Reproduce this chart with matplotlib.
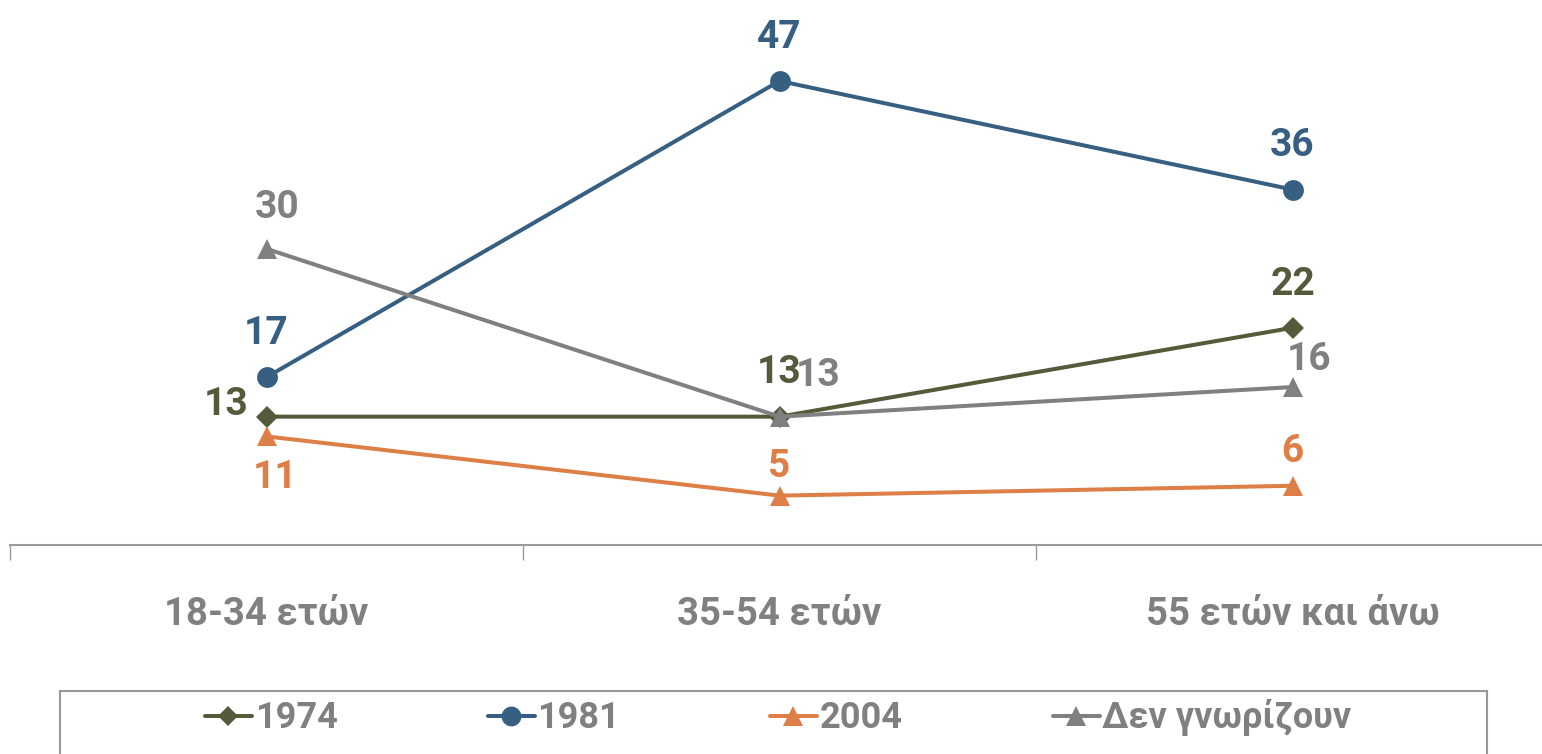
import matplotlib.pyplot as plt
from matplotlib.patches import Rectangle

plt.rcParams['font.family'] = ['Roboto', 'DejaVu Sans']
plt.rcParams['font.weight'] = 'bold'

# chart data
categories = ['18-34 ετών', '35-54 ετών', '55 ετών και άνω']
series_names = ['1974', '1981', '2004', 'Δεν γνωρίζουν']
values_1974 = [13, 13, 22]
values_1981 = [17, 47, 36]
values_2004 = [11, 5, 6]
values_dk = [30, 13, 16]

colors = ['#535B3B', '#365F81', '#DE7F47', '#808080']
markers = ['D', 'o', '^', '^']
msizes = [11, 15, 15, 15]

# label offsets in points (dx, dy) for each series / point
offsets = [
    [(-29, 8.5), (0, 31.5), (0, 31)],
    [(0, 31.5), (0, 31.5), (0, 31.5)],
    [(6, -29.5), (0, 21), (0, 24.5)],
    [(8, 30), (28, 29.5), (12, 19.5)],
]

fig = plt.figure(figsize=(15.42, 7.54), dpi=100)
ax = fig.add_axes([10 / 1542, 209 / 754, 1539 / 1542, 543 / 754])

x = list(range(len(categories)))
all_values = [values_1974, values_1981, values_2004, values_dk]
for vals, name, col, mk, ms, offs in zip(all_values, series_names, colors, markers, msizes, offsets):
    ax.plot(x, vals, color=col, lw=2.9, marker=mk, markersize=ms, label=name,
            markeredgewidth=0, solid_capstyle='round')
    for xi, v, (dx, dy) in zip(x, vals, offs):
        ax.annotate(str(v), (xi, v), xytext=(dx, dy), textcoords='offset points',
                    ha='center', va='center', color=col, fontsize=28, fontweight='bold')

ax.set_xlim(-0.5, 2.5)
ax.set_ylim(0, 55)
ax.set_yticks([])
for s in ['left', 'right', 'top']:
    ax.spines[s].set_visible(False)
ax.spines['bottom'].set_color('#999999')
ax.spines['bottom'].set_linewidth(1.5)

ax.set_xticks(x)
ax.set_xticklabels(categories, fontsize=27.5, color='#808080', fontweight='bold')
ax.tick_params(axis='x', which='major', length=0, pad=37)
ax.set_xticks([-0.5, 0.5, 1.5], minor=True)
ax.tick_params(axis='x', which='minor', length=11, width=1, color='#999999')

# legend box
fig.patches.append(Rectangle((60 / 1542, -0.01), 1427 / 1542, 71 / 754,
                             transform=fig.transFigure, fill=False,
                             edgecolor='#999999', lw=1.5))
leg = fig.legend(loc='center left', bbox_to_anchor=(205 / 1542, 36 / 754), ncol=4,
                 frameon=False, fontsize=26, handlelength=1.3, handletextpad=0.08,
                 columnspacing=4.15, markerscale=0.95, borderpad=0, borderaxespad=0)
for t in leg.get_texts():
    t.set_color('#808080')
    t.set_fontweight('bold')

fig.savefig('out.png', dpi=100)
